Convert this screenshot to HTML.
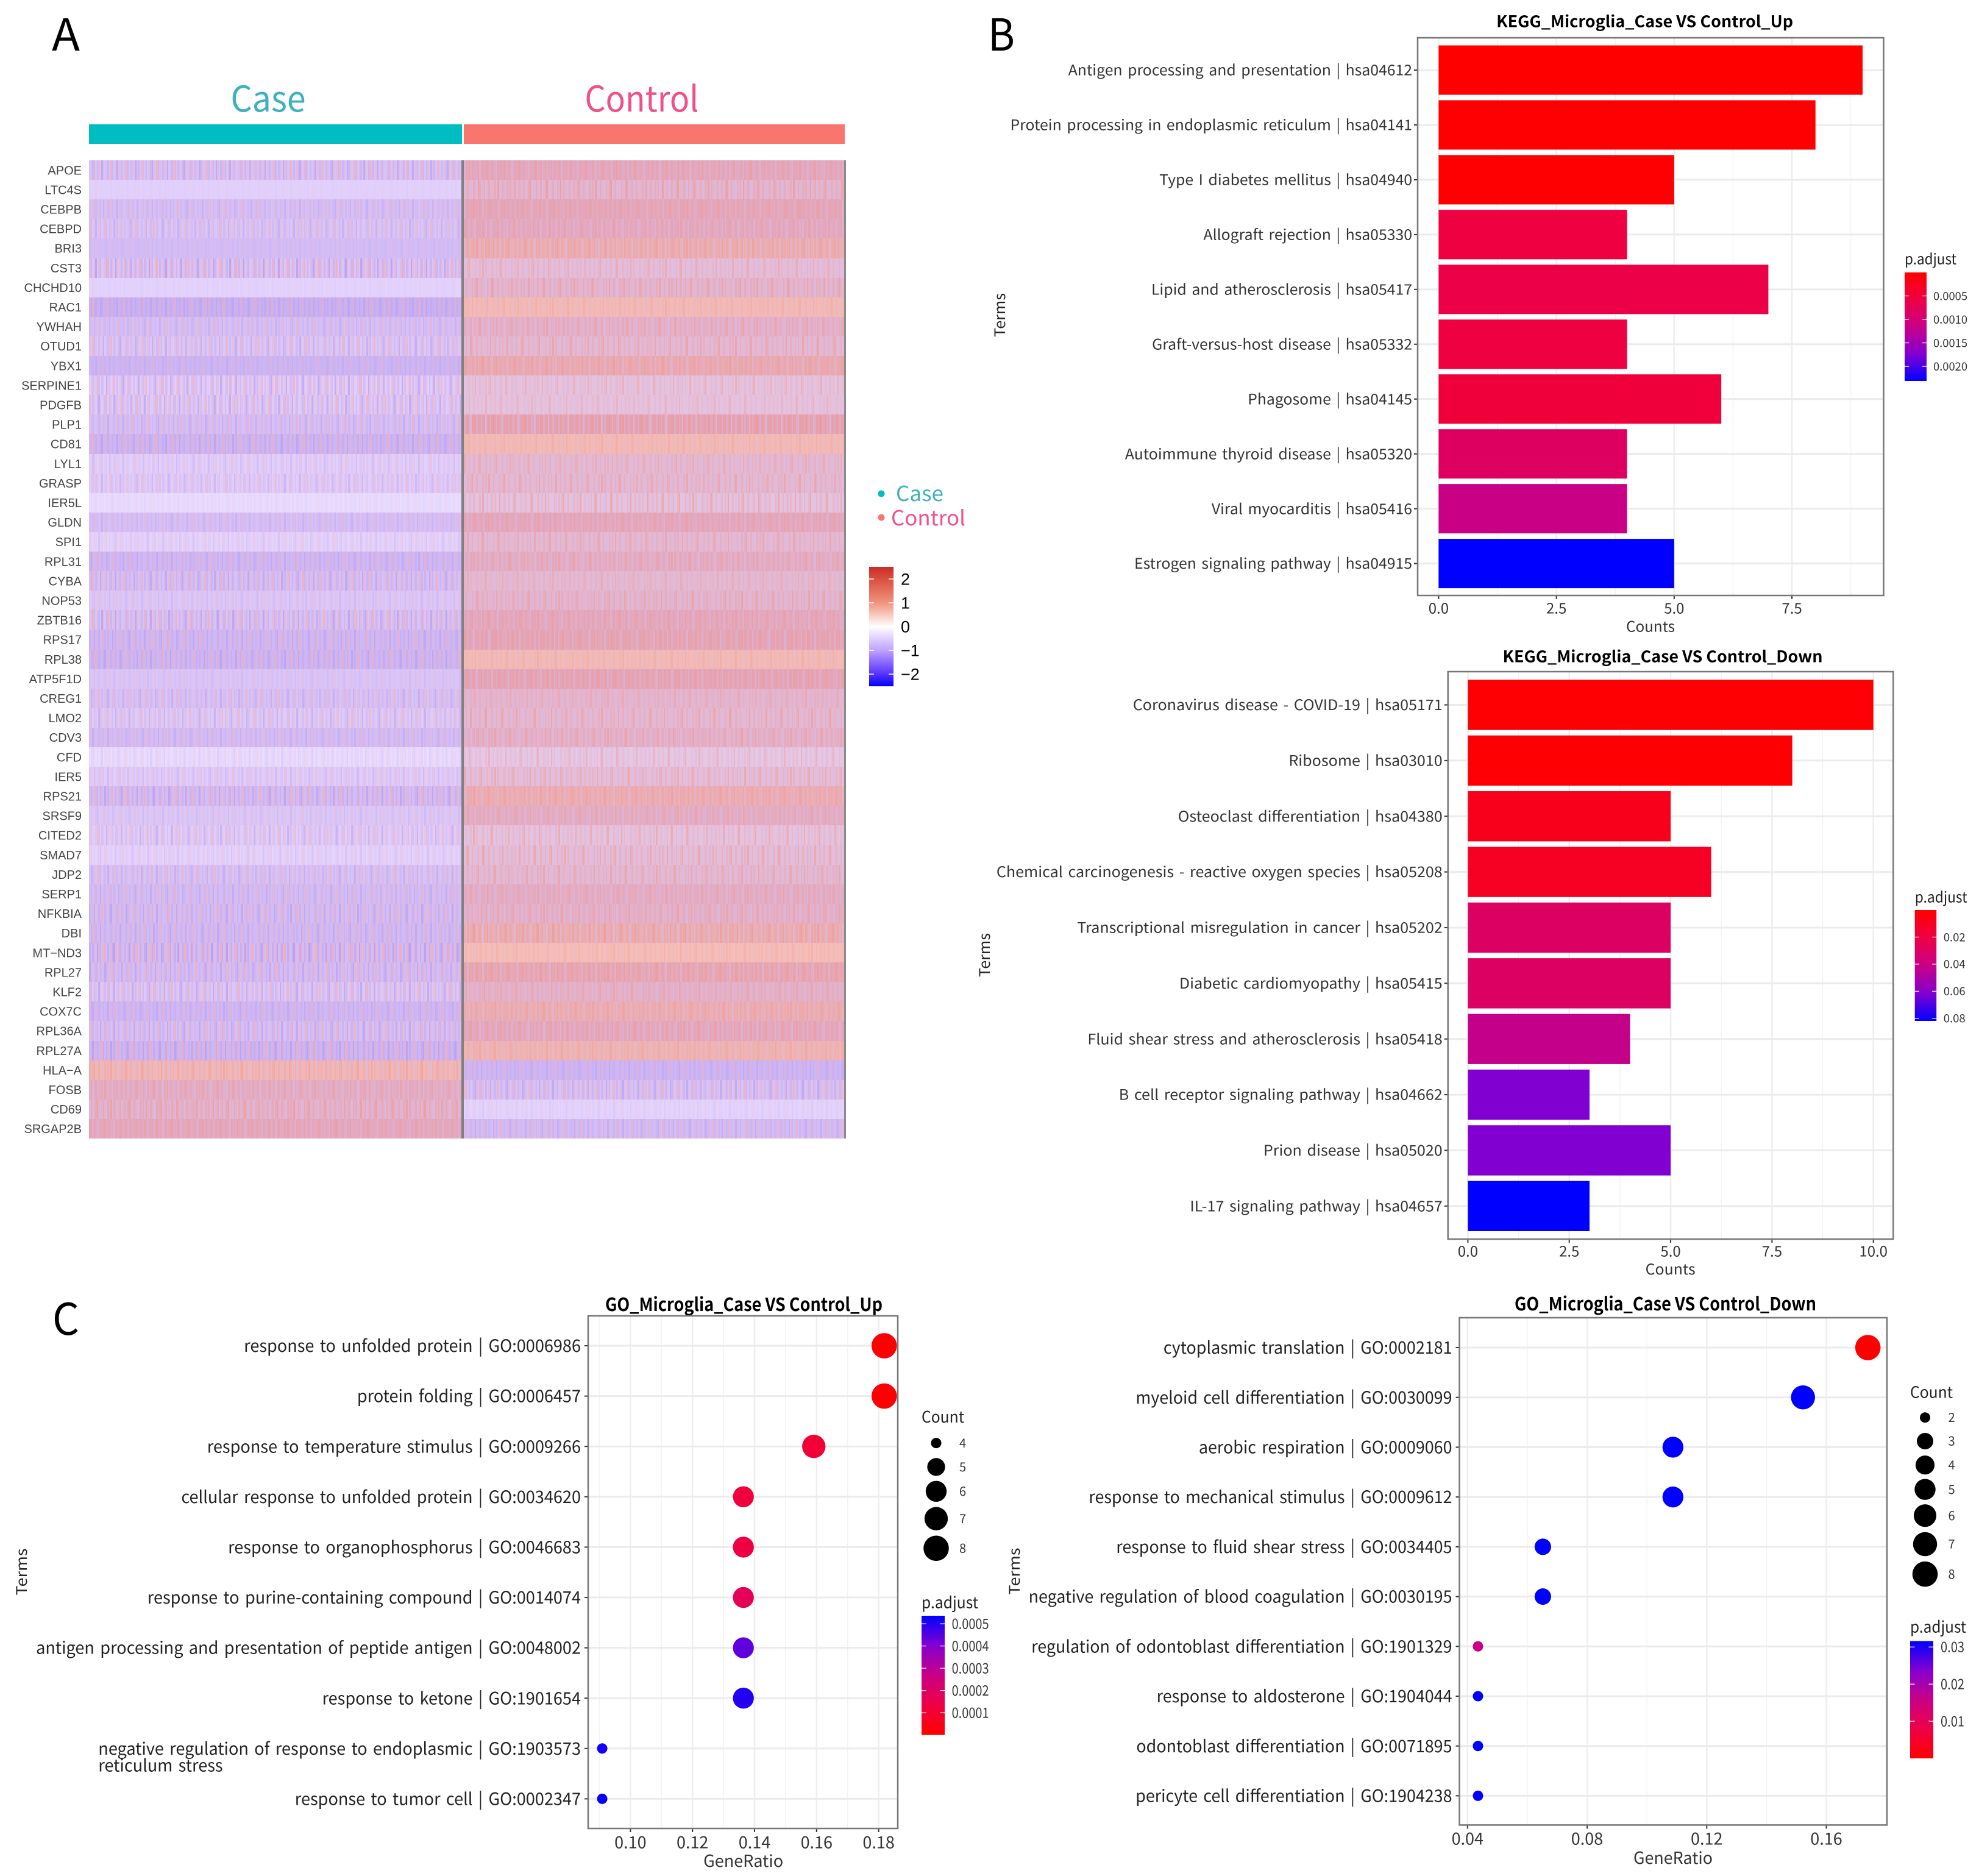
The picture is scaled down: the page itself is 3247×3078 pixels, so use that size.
<!DOCTYPE html>
<html lang="en">
<head>
<meta charset="utf-8">
<title>Microglia Case vs Control: heatmap, KEGG and GO enrichment</title>
<style>
html,body{margin:0;padding:0;background:#fff;}
svg{display:block;}
text{font-family:"Noto Sans CJK SC","Liberation Sans",sans-serif;}
</style>
</head>
<body>
<svg id="figure" xmlns="http://www.w3.org/2000/svg" width="3247" height="3078" viewBox="0 0 3247 3078">
  <defs>
    <linearGradient id="heatLegendGrad" x1="0" y1="0" x2="0" y2="1">
      <stop offset="0" stop-color="#cc2a25"/>
      <stop offset="0.1" stop-color="#d84f3f"/>
      <stop offset="0.3" stop-color="#f0937c"/>
      <stop offset="0.5" stop-color="#ffffff"/>
      <stop offset="0.7" stop-color="#c0a0ff"/>
      <stop offset="0.9" stop-color="#5530ff"/>
      <stop offset="1" stop-color="#0000ff"/>
    </linearGradient>
  </defs>
  <rect x="0" y="0" width="3247" height="3078" fill="#ffffff"/>

  <text x="85" y="83" font-size="72" fill="#000" textLength="46" lengthAdjust="spacingAndGlyphs">A</text>
  <text x="1621" y="83" font-size="72" fill="#000" textLength="44" lengthAdjust="spacingAndGlyphs">B</text>
  <text x="86" y="2190" font-size="72" fill="#000" textLength="44" lengthAdjust="spacingAndGlyphs">C</text>

  <g id="panelA">
    <text x="440" y="183" font-size="58" text-anchor="middle" fill="#3fb0bf" textLength="123" lengthAdjust="spacingAndGlyphs">Case</text>
    <text x="1053" y="183" font-size="58" text-anchor="middle" fill="#f0508a" textLength="187" lengthAdjust="spacingAndGlyphs">Control</text>
    <rect x="146" y="204" width="612" height="32" fill="#00bdc2"/>
    <rect x="761" y="204" width="625" height="32" fill="#f8766d"/>
    <g id="heatCells"></g>
    <rect x="757" y="263" width="4" height="1605" fill="#808080"/>
    <rect x="1385" y="263" width="3" height="1605" fill="#8a8a8a"/>
    <g id="geneLabels"></g>
    <circle cx="1446" cy="810" r="5.5" fill="#00bdc2"/>
    <circle cx="1446" cy="849" r="5.5" fill="#f8766d"/>
    <text x="1470" y="822" font-size="34" fill="#3fb0bf" textLength="78" lengthAdjust="spacingAndGlyphs">Case</text>
    <text x="1462" y="862" font-size="34" fill="#f0508a" textLength="122" lengthAdjust="spacingAndGlyphs">Control</text>
    <rect x="1426" y="930" width="40" height="196" fill="url(#heatLegendGrad)"/>
    <g id="heatLegendTicks"></g>
  </g>

  <g id="keggUp">
    <text x="2698.6" y="44.4" font-size="26" font-weight="700" text-anchor="middle" fill="#000" textLength="487" lengthAdjust="spacingAndGlyphs">KEGG_Microglia_Case VS Control_Up</text>
    <text transform="translate(1649,517) rotate(-90)" font-size="24" text-anchor="middle" fill="#222" textLength="72" lengthAdjust="spacingAndGlyphs">Terms</text>
    <text x="2708" y="1036.6" font-size="24" text-anchor="middle" fill="#333" textLength="80" lengthAdjust="spacingAndGlyphs">Counts</text>
  </g>
  <g id="keggDown">
    <text x="2728" y="1086.4" font-size="26" font-weight="700" text-anchor="middle" fill="#000" textLength="525" lengthAdjust="spacingAndGlyphs">KEGG_Microglia_Case VS Control_Down</text>
    <text transform="translate(1624,1567) rotate(-90)" font-size="24" text-anchor="middle" fill="#222" textLength="72" lengthAdjust="spacingAndGlyphs">Terms</text>
    <text x="2740.7" y="2091.2" font-size="24" text-anchor="middle" fill="#333" textLength="82" lengthAdjust="spacingAndGlyphs">Counts</text>
  </g>
  <g id="goUp">
    <text x="1220.5" y="2151" font-size="30" font-weight="700" text-anchor="middle" fill="#000" textLength="455" lengthAdjust="spacingAndGlyphs">GO_Microglia_Case VS Control_Up</text>
    <text transform="translate(44,2579) rotate(-90)" font-size="24" text-anchor="middle" fill="#222" textLength="77" lengthAdjust="spacingAndGlyphs">Terms</text>
    <text x="1219.6" y="3063" font-size="27" text-anchor="middle" fill="#333" textLength="131" lengthAdjust="spacingAndGlyphs">GeneRatio</text>
  </g>
  <g id="goDown">
    <text x="2732.5" y="2150" font-size="30" font-weight="700" text-anchor="middle" fill="#000" textLength="495" lengthAdjust="spacingAndGlyphs">GO_Microglia_Case VS Control_Down</text>
    <text transform="translate(1673,2578) rotate(-90)" font-size="24" text-anchor="middle" fill="#222" textLength="77" lengthAdjust="spacingAndGlyphs">Terms</text>
    <text x="2745" y="3058" font-size="27" text-anchor="middle" fill="#333" textLength="130" lengthAdjust="spacingAndGlyphs">GeneRatio</text>
  </g>
</svg>

<script>
/* ---------- heatmap data (row-level estimates) ---------- */
const geneNames = ["APOE","LTC4S","CEBPB","CEBPD","BRI3","CST3","CHCHD10","RAC1","YWHAH","OTUD1","YBX1","SERPINE1","PDGFB","PLP1","CD81","LYL1","GRASP","IER5L","GLDN","SPI1","RPL31","CYBA","NOP53","ZBTB16","RPS17","RPL38","ATP5F1D","CREG1","LMO2","CDV3","CFD","IER5","RPS21","SRSF9","CITED2","SMAD7","JDP2","SERP1","NFKBIA","DBI","MT\u2212ND3","RPL27","KLF2","COX7C","RPL36A","RPL27A","HLA\u2212A","FOSB","CD69","SRGAP2B"];
const caseLevel = [-.5,-.25,-.55,-.45,-.6,-.45,-.22,-.85,-.55,-.4,-.75,-.3,-.35,-.55,-.75,-.25,-.3,-.1,-.55,-.2,-.7,-.55,-.4,-.5,-.7,-.75,-.45,-.5,-.35,-.6,-.1,-.3,-.6,-.4,-.3,-.2,-.5,-.6,-.6,-.65,-.6,-.6,-.4,-.7,-.55,-.75,.9,.35,.3,.45];
const caseSpread = [.45,.05,.3,.35,.12,.55,.06,.4,.3,.4,.25,.45,.45,.35,.45,.25,.3,.08,.25,.2,.35,.45,.2,.5,.4,.45,.15,.35,.35,.3,.15,.25,.5,.2,.35,.2,.35,.35,.45,.4,.7,.45,.45,.35,.45,.55,.35,.35,.45,.3];
const controlLevel = [.45,.25,.5,.4,.75,.15,.25,.95,.3,.2,.7,.1,.1,.6,.95,.2,.2,.1,.45,.2,.35,.2,.25,.45,.55,.95,.55,.25,.2,.3,.05,.15,.75,.35,.1,.15,.2,.35,.3,.75,1.0,.65,.3,.75,.45,.85,-.75,-.5,-.2,-.6];
const controlSpread = [.3,.45,.25,.3,.35,.3,.4,.2,.35,.4,.3,.3,.25,.45,.2,.3,.35,.4,.25,.35,.35,.25,.35,.3,.35,.2,.3,.25,.4,.35,.3,.35,.3,.3,.35,.4,.35,.3,.35,.4,.2,.35,.3,.3,.35,.25,.3,.45,.12,.35];
/* decorative stripe texture: one hand-typed pattern, reused per row (individual cells are not readable) */
const stripeTexture = [0,.5,-.5,1,0,-.5,.5,0,-1,.5,0,.5,-.5,0,1,-.5,0,.5,-1,0,.5,-.5,0,.5,1,-.5,0,-.5,.5,0,-1,.5,-.5,0,.5,1,0,-.5,0,.5,-.5,-1,.5,0,1,-.5,.5,0,-.5,0,.5,-1,0,.5,-.5,.5,1,0,-.5,.5,0,-.5,-1,.5,0,.5,-.5,1,0,-.5,.5,0,-1,-.5,.5,0,.5,1,-.5,0,.5,-.5,0,-1,.5,0,-.5,1,.5,-.5,0,.5,-1,0,.5,-.5,0];
const heatLegendValues = [2,1,0,-1,-2];
const heatLegendLabels = ["2","1","0","\u22121","\u22122"];

/* ---------- KEGG bar chart data ---------- */
const keggUpTerms = ["Antigen processing and presentation | hsa04612","Protein processing in endoplasmic reticulum | hsa04141","Type I diabetes mellitus | hsa04940","Allograft rejection | hsa05330","Lipid and atherosclerosis | hsa05417","Graft-versus-host disease | hsa05332","Phagosome | hsa04145","Autoimmune thyroid disease | hsa05320","Viral myocarditis | hsa05416","Estrogen signaling pathway | hsa04915"];
const keggUpCounts = [9,8,5,4,7,4,6,4,4,5];
const keggUpPadjust = [.00001,.00002,.00002,.00055,.0006,.00055,.0005,.00083,.00115,.0023];
const keggUpTicks = [0,2.5,5,7.5];
const keggUpTickLabels = ["0.0","2.5","5.0","7.5"];
const keggUpMinor = [1.25,3.75,6.25,8.75];
const keggUpLegendValues = [.0005,.001,.0015,.002];
const keggUpLegendLabels = ["0.0005","0.0010","0.0015","0.0020"];

const keggDownTerms = ["Coronavirus disease - COVID-19 | hsa05171","Ribosome | hsa03010","Osteoclast differentiation | hsa04380","Chemical carcinogenesis - reactive oxygen species | hsa05208","Transcriptional misregulation in cancer | hsa05202","Diabetic cardiomyopathy | hsa05415","Fluid shear stress and atherosclerosis | hsa05418","B cell receptor signaling pathway | hsa04662","Prion disease | hsa05020","IL-17 signaling pathway | hsa04657"];
const keggDownCounts = [10,8,5,6,5,5,4,3,5,3];
const keggDownPadjust = [.0008,.0009,.008,.011,.03,.03,.0425,.062,.062,.082];
const keggDownTicks = [0,2.5,5,7.5,10];
const keggDownTickLabels = ["0.0","2.5","5.0","7.5","10.0"];
const keggDownMinor = [1.25,3.75,6.25,8.75];
const keggDownLegendValues = [.02,.04,.06,.08];
const keggDownLegendLabels = ["0.02","0.04","0.06","0.08"];

/* ---------- GO dot chart data ---------- */
const goUpTerms = ["response to unfolded protein | GO:0006986","protein folding | GO:0006457","response to temperature stimulus | GO:0009266","cellular response to unfolded protein | GO:0034620","response to organophosphorus | GO:0046683","response to purine-containing compound | GO:0014074","antigen processing and presentation of peptide antigen | GO:0048002","response to ketone | GO:1901654","negative regulation of response to endoplasmic | GO:1903573\nreticulum stress","response to tumor cell | GO:0002347"];
const goUpRatio = [.1818,.1818,.1591,.1364,.1364,.1364,.1364,.1364,.0909,.0909];
const goUpCount = [8,8,7,6,6,6,6,6,4,4];
const goUpPadjust = [.000002,.000005,.00011,.00012,.00013,.00017,.00044,.0005,.00052,.00053];
const goUpTicks = [.10,.12,.14,.16,.18];
const goUpTickLabels = ["0.10","0.12","0.14","0.16","0.18"];
const goUpMinor = [.09,.11,.13,.15,.17];
const goUpLegendCounts = [4,5,6,7,8];
const goUpLegendValues = [.0005,.0004,.0003,.0002,.0001];
const goUpLegendLabels = ["0.0005","0.0004","0.0003","0.0002","0.0001"];

const goDownTerms = ["cytoplasmic translation | GO:0002181","myeloid cell differentiation | GO:0030099","aerobic respiration | GO:0009060","response to mechanical stimulus | GO:0009612","response to fluid shear stress | GO:0034405","negative regulation of blood coagulation | GO:0030195","regulation of odontoblast differentiation | GO:1901329","response to aldosterone | GO:1904044","odontoblast differentiation | GO:0071895","pericyte cell differentiation | GO:1904238"];
const goDownRatio = [.1739,.1522,.1087,.1087,.0652,.0652,.0435,.0435,.0435,.0435];
const goDownCount = [8,7,5,5,3,3,2,2,2,2];
const goDownPadjust = [.0001,.0316,.0316,.0316,.0316,.0316,.0158,.0316,.0316,.0316];
const goDownTicks = [.04,.08,.12,.16];
const goDownTickLabels = ["0.04","0.08","0.12","0.16"];
const goDownMinor = [.06,.10,.14];
const goDownLegendCounts = [2,3,4,5,6,7,8];
const goDownLegendValues = [.03,.02,.01];
const goDownLegendLabels = ["0.03","0.02","0.01"];

/* ---------- helpers ---------- */
const NS = "http://www.w3.org/2000/svg";
const SANS = '"Noto Sans CJK SC","Liberation Sans",sans-serif';
function make(tag, attrs, parent){
  const e = document.createElementNS(NS, tag);
  for (const k in attrs) e.setAttribute(k, attrs[k]);
  parent.appendChild(e);
  return e;
}
function linear(d0,d1,r0,r1){ return v => r0 + (v-d0)/(d1-d0)*(r1-r0); }
function txt(parent,x,yCenter,s,o,name){
  const e = make('text',{x:x,y:yCenter+0.36*o.fs,'font-size':o.fs,fill:o.fill||'#333','text-anchor':o.anchor||'middle'},parent);
  e.style.fontFamily = o.ff || SANS;
  if(o.ws){ e.style.wordSpacing = o.ws+'px'; }
  if(o.w){ e.setAttribute('textLength',o.w); e.setAttribute('lengthAdjust','spacingAndGlyphs'); }
  e.textContent = s;
  
  
  return e;
}
function line(parent,x1,y1,x2,y2,stroke,width,name){
  const e = make('line',{x1:x1,y1:y1,x2:x2,y2:y2,stroke:stroke,'stroke-width':width},parent);
  
  
  return e;
}
function hex(c){ return [parseInt(c.slice(1,3),16),parseInt(c.slice(3,5),16),parseInt(c.slice(5,7),16)]; }
function toRgb(a){ return 'rgb('+a.map(v=>Math.round(v)).join(',')+')'; }
function ramp(stops,t){
  const n = stops.length-1, p = Math.max(0,Math.min(1,t))*n, i = Math.min(n-1,Math.floor(p)), f = p-i;
  const a = hex(stops[i]), b = hex(stops[i+1]);
  return toRgb(a.map((v,j)=>v+(b[j]-v)*f));
}
const pAdjustStops = ['#ff0000','#ee0044','#c90086','#8400d0','#0000ff'];

/* rendered tone of the heatmap, tuned to the picture (columns blend when downsampled) */
const heatDomain = [-1.1,-.8,-.6,-.4,-.25,-.1,.05,.2,.4,.6,.8,1.0];
const heatRange = ['#bda6f4','#c9b3f5','#d3bdf6','#dcc8f8','#e2d0fc','#e9dcfe','#e6c8e6','#e4b8d2','#e3a8c0','#e5a2b2','#eeb0b0','#f5bdb6'];
function heatRgb(v){
  if(v<=heatDomain[0]) return hex(heatRange[0]);
  for(let i=1;i<heatDomain.length;i++){
    if(v<=heatDomain[i]){
      const f=(v-heatDomain[i-1])/(heatDomain[i]-heatDomain[i-1]);
      const a=hex(heatRange[i-1]), b=hex(heatRange[i]);
      return a.map((c,j)=>c+(b[j]-c)*f);
    }
  }
  return hex(heatRange[heatRange.length-1]);
}
/* stripe tone: a row's stripes lean toward the tone its group's extremes show in the picture */
function stripeColor(level,amount){
  const base = heatRgb(level);
  let target;
  if(level<0){ target = amount>0 ? hex('#eeaebc') : hex('#b79ef2'); }
  else { target = amount>0 ? hex('#ee9a94') : hex('#d9bce4'); }
  const m = Math.min(.9,Math.abs(amount)*1.5);
  return toRgb(base.map((c,j)=>c+(target[j]-c)*m));
}

/* ---------- heatmap ---------- */
(function(){
  const cells = document.getElementById('heatCells');
  const labels = document.getElementById('geneLabels');
  const rowY = linear(0,geneNames.length,263,1868);
  const rowH = rowY(1)-rowY(0);
  const groups = [
    {name:'case',x0:146,x1:757,lv:caseLevel,sp:caseSpread,off:0},
    {name:'control',x0:761,x1:1385,lv:controlLevel,sp:controlSpread,off:41}
  ];
  const levels = [-1,-.5,.5,1];
  const cellW = 2.5;
  geneNames.forEach((gene,r)=>{
    const y0 = Math.round(rowY(r)), y1 = Math.round(rowY(r+1));
    txt(labels,134,rowY(r)+rowH/2,gene,{fs:20,anchor:'end',fill:'#444',ff:'"Liberation Sans",sans-serif'},'gene-label');
    groups.forEach(g=>{
      const base = make('rect',{x:g.x0,y:y0,width:g.x1-g.x0,height:y1-y0,fill:toRgb(heatRgb(g.lv[r])),'shape-rendering':'crispEdges'},cells);
      
      
      levels.forEach(lv=>{
        let d = '';
        const n = Math.floor((g.x1-g.x0)/cellW);
        for(let c=0;c<n;c++){
          const idx = (c + r*37 + g.off) % stripeTexture.length;
          if(stripeTexture[idx]===lv){
            const a = Math.round(g.x0+c*cellW), b = Math.round(g.x0+(c+1)*cellW);
            d += 'M'+a+' '+y0+'H'+b+'V'+y1+'H'+a+'Z';
          }
        }
        const p = make('path',{d:d,fill:stripeColor(g.lv[r],lv*g.sp[r]),'shape-rendering':'crispEdges'},cells);
        
        
      });
    });
  });
  const legend = document.getElementById('heatLegendTicks');
  const ly = linear(2,-2,950,1106);
  heatLegendValues.forEach((v,i)=>{
    line(legend,1426,ly(v),1434,ly(v),'#ffffff',1.5,'heat-tick-left');
    line(legend,1458,ly(v),1466,ly(v),'#ffffff',1.5,'heat-tick-right');
    txt(legend,1478,ly(v),heatLegendLabels[i],{fs:27,anchor:'start',fill:'#000',ff:'"Liberation Sans",sans-serif'},'heat-tick-label');
  });
})();

/* ---------- shared: term labels scaled to a reference width ---------- */
function termLabels(parent,terms,rowY,anchorX,fitWidth,fs,lineGap,fill){
  const g = make('g',{},parent);
  
  
  let longest = 0;
  const lines = [];
  const ws = fs*0.12;
  terms.forEach((t,i)=>{
    const parts = t.split('\n');
    const e = txt(g,0,rowY(i),parts[0],{fs:fs,anchor:'end',fill:fill,ws:ws},'term-label');
    lines.push([e,parts[1],i]);
    longest = Math.max(longest,e.getComputedTextLength());
  });
  const sx = fitWidth/longest;
  g.setAttribute('transform','translate('+anchorX+',0) scale('+sx+',1)');
  lines.forEach(l=>{
    if(l[1]){
      const len = l[0].getComputedTextLength();
      txt(g,-len,rowY(l[2])+lineGap,l[1],{fs:fs,anchor:'start',fill:fill,ws:ws},'term-label-continuation');
    }
  });
}
function colorLegend(parent,c){
  const s = document.querySelector('svg defs');
  const grad = make('linearGradient',{id:c.id,x1:0,y1:0,x2:0,y2:1},s);
  for(let i=0;i<=8;i++){
    const t = i/8;
    make('stop',{offset:t,'stop-color':ramp(pAdjustStops,c.redTop?t:1-t)},grad);
  }
  txt(parent,c.x,c.titleY,'p.adjust',{fs:c.titleFs,anchor:'start',fill:'#222',w:c.titleW},'padjust-legend-title');
  const bar = make('rect',{x:c.x,y:c.y,width:c.w,height:c.h,fill:'url(#'+c.id+')'},parent);
  
  
  const y = c.redTop ? linear(0,c.max,c.y,c.y+c.h) : linear(0,c.max,c.y+c.h,c.y);
  c.values.forEach((v,i)=>{
    line(parent,c.x,y(v),c.x+c.w/5,y(v),'#ffffff',1.2,'padjust-tick-left');
    line(parent,c.x+c.w*.8,y(v),c.x+c.w,y(v),'#ffffff',1.2,'padjust-tick-right');
    txt(parent,c.labelX,y(v),c.labels[i],{fs:c.labelFs,anchor:'start',fill:'#333',w:c.labelW},'padjust-tick-label');
  });
}
function panelFrame(parent,b,xScale,yScale,n,ticks,tickLabels,minor,tickY,tickFs,names){
  const G = make('g',{},parent);
  
  
  minor.forEach(v=>line(G,xScale(v),b.t,xScale(v),b.b,'#f3f3f3',1.5,'minor-gridline'));
  ticks.forEach(v=>line(G,xScale(v),b.t,xScale(v),b.b,'#eeeeee',2.5,'major-gridline'));
  for(let i=0;i<n;i++) line(G,b.l,yScale(i),b.r,yScale(i),'#ebebeb',3,'row-gridline');
  for(let i=0;i<n;i++) line(parent,b.l-6,yScale(i),b.l,yScale(i),'#333',2,'y-tick');
  ticks.forEach((v,i)=>{
    line(parent,xScale(v),b.b,xScale(v),b.b+6,'#333',2,'x-tick');
    txt(parent,xScale(v),tickY,tickLabels[i],{fs:tickFs,fill:'#333'},'x-tick-label');
  });
}
function panelBorder(parent,b,name){
  const e = make('rect',{x:b.l,y:b.t,width:b.r-b.l,height:b.b-b.t,fill:'none',stroke:'#777','stroke-width':2.5},parent);
  
  
}

/* ---------- bar panels ---------- */
function barPanel(c){
  const root = document.getElementById(c.root);
  const b = c.box;
  panelFrame(root,b,c.x,c.y,c.terms.length,c.ticks,c.tickLabels,c.minor,c.tickY,24,c.name);
  c.terms.forEach((t,i)=>{
    const r = make('rect',{x:c.x(0),y:c.y(i)-c.barH/2,width:c.x(c.counts[i])-c.x(0),height:c.barH,fill:ramp(pAdjustStops,c.padj[i]/c.max)},root);
    
    
  });
  panelBorder(root,b,c.name+'-border');
  termLabels(root,c.terms,c.y,b.l-9,c.fit,24,0,'#333');
  colorLegend(root,c.legend);
}
barPanel({root:'keggUp',name:'kegg-up',box:{l:2326,t:62,r:3090.5,b:977},
  x:linear(0,9,2360.4,3056),y:linear(0,9,115,924.6),barH:81,tickY:998,
  terms:keggUpTerms,counts:keggUpCounts,padj:keggUpPadjust,max:.0023,ticks:keggUpTicks,tickLabels:keggUpTickLabels,minor:keggUpMinor,fit:660,
  legend:{id:'gUp',x:3125,y:447,w:36,h:178,redTop:true,max:.00231,titleY:425,titleFs:24,titleW:85,labelX:3172,labelFs:19,labelW:56,values:keggUpLegendValues,labels:keggUpLegendLabels}});
barPanel({root:'keggDown',name:'kegg-down',box:{l:2375.7,t:1102,r:3106.3,b:2033},
  x:linear(0,10,2408.4,3073.7),y:linear(0,9,1156.5,1978.8),barH:82.4,tickY:2053,
  terms:keggDownTerms,counts:keggDownCounts,padj:keggDownPadjust,max:.082,ticks:keggDownTicks,tickLabels:keggDownTickLabels,minor:keggDownMinor,fit:732,
  legend:{id:'gDown',x:3141.7,y:1493,w:35.5,h:182,redTop:true,max:.0819,titleY:1472,titleFs:24,titleW:86,labelX:3188.7,labelFs:19,labelW:36,values:keggDownLegendValues,labels:keggDownLegendLabels}});

/* ---------- dot panels ---------- */
function dotRadius(count,lo,hi){ return 8.5 + 12.3*Math.sqrt((count-lo)/(hi-lo)); }
function dotPanel(c){
  const root = document.getElementById(c.root);
  const b = c.box;
  panelFrame(root,b,c.x,c.y,c.terms.length,c.ticks,c.tickLabels,c.minor,c.tickY,27,c.name);
  c.terms.forEach((t,i)=>{
    const d = make('circle',{cx:c.x(c.ratio[i]),cy:c.y(i),r:dotRadius(c.count[i],c.lo,c.hi),fill:ramp(pAdjustStops,c.padj[i]/c.max)},root);
    
    
  });
  panelBorder(root,b,c.name+'-border');
  termLabels(root,c.terms,c.y,b.l-12,c.fit,28,27.5,'#222');
  txt(root,c.countLegend.x,c.countLegend.titleY,'Count',{fs:26,anchor:'start',fill:'#222',w:70},'count-legend-title');
  c.legendCounts.forEach((n,i)=>{
    const cy = c.countLegend.ys[i];
    const k = make('circle',{cx:c.countLegend.cx,cy:cy,r:dotRadius(n,c.lo,c.hi),fill:'#000'},root);
    
    
    txt(root,c.countLegend.labelX,cy,String(n),{fs:20,fill:'#333'},'count-legend-label');
  });
  colorLegend(root,c.legend);
}
dotPanel({root:'goUp',name:'go-up',box:{l:965,t:2159,r:1473,b:3000},
  x:linear(.10,.18,1034.4,1441.6),y:linear(0,9,2208,2951.4),tickY:3023,
  terms:goUpTerms,ratio:goUpRatio,count:goUpCount,padj:goUpPadjust,max:.000536,lo:4,hi:8,
  ticks:goUpTicks,tickLabels:goUpTickLabels,minor:goUpMinor,fit:894,legendCounts:goUpLegendCounts,
  countLegend:{x:1512,titleY:2324.5,cx:1536,labelX:1579.5,ys:[2367.6,2406.9,2446.8,2491.7,2540.3]},
  legend:{id:'gGoUp',x:1512,y:2651,w:38,h:195.6,redTop:false,max:.000536,titleY:2629,titleFs:26,titleW:93,labelX:1561.6,labelFs:23,labelW:61,values:goUpLegendValues,labels:goUpLegendLabels}});
dotPanel({root:'goDown',name:'go-down',box:{l:2394.5,t:2162,r:3096,b:2994.4},
  x:linear(.04,.16,2407.8,2996.5),y:linear(0,9,2211,2946.4),tickY:3017,
  terms:goDownTerms,ratio:goDownRatio,count:goDownCount,padj:goDownPadjust,max:.0316,lo:2,hi:8,
  ticks:goDownTicks,tickLabels:goDownTickLabels,minor:goDownMinor,fit:695,legendCounts:goDownLegendCounts,
  countLegend:{x:3134,titleY:2284,cx:3158.5,labelX:3202,ys:[2325.8,2364.5,2403.7,2443.7,2486.7,2533.5,2582.7]},
  legend:{id:'gGoDown',x:3134,y:2692.5,w:38,h:192.5,redTop:false,max:.0316,titleY:2669,titleFs:26,titleW:92,labelX:3184,labelFs:23,labelW:39,values:goDownLegendValues,labels:goDownLegendLabels}});
</script>
</body>
</html>
